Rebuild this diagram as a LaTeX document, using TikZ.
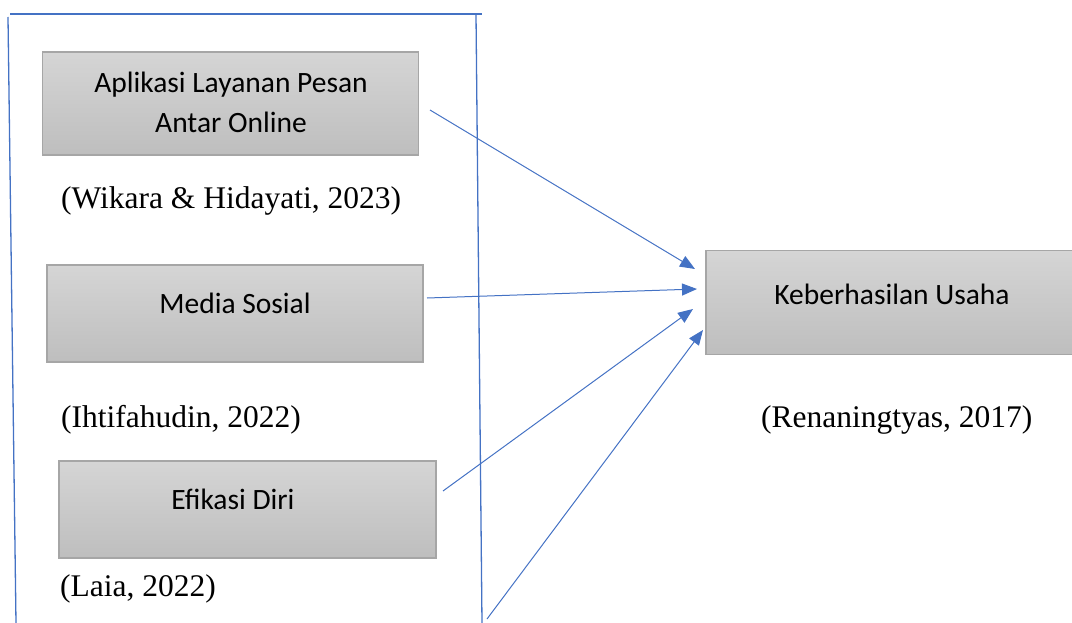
\documentclass[tikz,border=0pt]{standalone}
\usepackage{fontspec}
\setmainfont{Liberation Serif}
\newfontfamily\boxfont{Carlito}
\usetikzlibrary{arrows.meta}
\definecolor{frameblue}{HTML}{4472C4}
\definecolor{boxtop}{HTML}{D5D5D5}
\definecolor{boxbot}{HTML}{BEBEBE}
\definecolor{boxline}{HTML}{A6A6A6}
\tikzset{
  varbox/.style={draw=boxline, line width=1.2pt, top color=boxtop, bottom color=boxbot, rectangle, inner sep=0pt},
  boxtext/.style={font=\boxfont\fontsize{29.5}{40}\selectfont, align=center, inner sep=0pt},
  cite/.style={font=\fontsize{31.5}{36}\selectfont, anchor=base west, inner sep=0pt},
  frame/.style={draw=frameblue, line width=1.3pt},
  link/.style={draw=frameblue, line width=1pt, -{Triangle[length=15pt,width=12pt]}}
}
\begin{document}
\begin{tikzpicture}[x=1pt,y=-1pt]
\useasboundingbox (0,0) rectangle (1072,623);
% frame
\coordinate (ftl) at (10,14);
\coordinate (ftr) at (482,14);
\coordinate (fl1) at (8,17);
\coordinate (fl2) at (16,623);
\coordinate (fr1) at (476,14);
\coordinate (fr2) at (482,623);
\draw[frame] (ftl) -- (ftr);
\draw[frame] (fl1) -- (fl2);
\draw[frame] (fr1) -- (fr2);
% boxes
\node[varbox, minimum width=376pt, minimum height=103pt] (b1) at (230.5,103.5) {};
\node[varbox, minimum width=376pt, minimum height=97pt] (b2) at (235,313.5) {};
\node[varbox, minimum width=377pt, minimum height=97pt] (b3) at (247.5,509.5) {};
\node[varbox, minimum width=370pt, minimum height=104pt] (b4) at (891,302.5) {};
% box texts
\node[boxtext] (t1) at (231,102) {Aplikasi Layanan Pesan\\Antar Online};
\node[boxtext] (t2) at (235,303) {Media Sosial};
\node[boxtext] (t3) at (233,499) {Efikasi Diri};
\node[boxtext] (t4) at (892,294) {Keberhasilan Usaha};
% citations
\node[cite] (c1) at (61,209) {(Wikara \& Hidayati, 2023)};
\node[cite] (c2) at (61,427) {(Ihtifahudin, 2022)};
\node[cite] (c3) at (60,596) {(Laia, 2022)};
\node[cite] (c4) at (761,427) {(Renaningtyas, 2017)};
% connectors
\coordinate (s1) at (430,110);
\coordinate (e1) at (695,269);
\coordinate (s2) at (427,298);
\coordinate (e2) at (697,289);
\coordinate (s3) at (443,491);
\coordinate (e3) at (693,309);
\coordinate (s4) at (487,619);
\coordinate (e4) at (703,330);
\draw[link] (s1) -- (e1);
\draw[link] (s2) -- (e2);
\draw[link] (s3) -- (e3);
\draw[link] (s4) -- (e4);
\end{tikzpicture}
\end{document}
